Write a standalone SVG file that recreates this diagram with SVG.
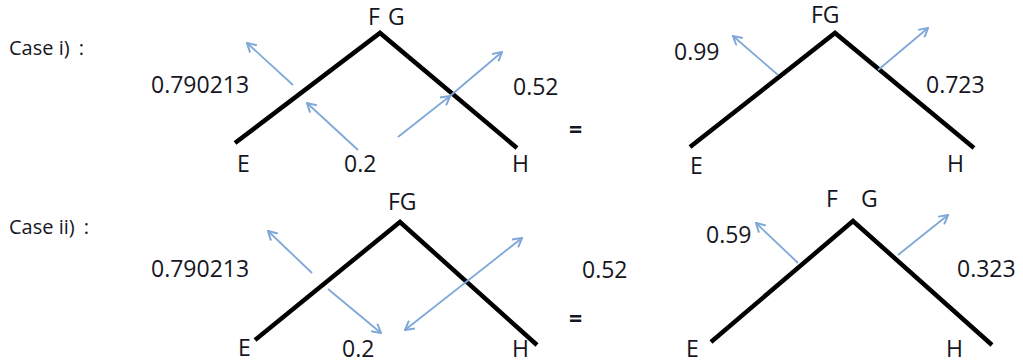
<svg xmlns="http://www.w3.org/2000/svg" width="1023" height="362" viewBox="0 0 1023 362">
  <style>
    text { font-family: "Open Sans", "Liberation Sans", sans-serif; font-size: 23px; fill: #16161e; }
    .case { font-size: 20px; }
    .eq { font-weight: bold; }
    .edge { stroke: #000; stroke-width: 4.5; fill: none; stroke-linejoin: miter; stroke-linecap: butt; }
    .arr { stroke: #7fa8d8; stroke-width: 1.8; fill: none; marker-end: url(#head); }
    .arr2 { stroke: #7fa8d8; stroke-width: 1.8; fill: none; marker-end: url(#head); marker-start: url(#head); }
  </style>
  <defs>
    <marker id="head" viewBox="0 0 10 10" refX="9" refY="5" markerWidth="11" markerHeight="11" markerUnits="userSpaceOnUse" orient="auto-start-reverse">
      <path d="M1,0.5 L9,5 L1,9.5" fill="none" stroke="#7fa8d8" stroke-width="1.8"/>
    </marker>
  </defs>
  <rect width="1023" height="362" fill="#fff"/>

  <!-- Case labels -->
  <g id="label-case1"><text class="case" x="9" y="55">Case i)<tspan dx="9">:</tspan></text></g>
  <g id="label-case2"><text class="case" x="9" y="234">Case ii)<tspan dx="9">:</tspan></text></g>

  <!-- Case i, left -->
  <g id="c1l-connectors">
    <polyline class="edge" points="235,143 380,33 517,148"/>
    <line class="arr" x1="293" y1="85" x2="247" y2="43"/>
    <line class="arr" x1="358" y1="150" x2="307" y2="103"/>
    <line class="arr" x1="398" y1="137" x2="450" y2="96"/>
    <line class="arr" x1="450" y1="96" x2="502" y2="52"/>
  </g>
  <g id="c1l-FG"><text x="368" y="25">F</text><text x="388" y="25">G</text></g>
  <g id="c1l-E"><text x="237" y="172">E</text></g>
  <g id="c1l-H"><text x="512" y="172">H</text></g>
  <g id="c1l-w1"><text x="151" y="93">0.790213</text></g>
  <g id="c1l-w2"><text x="513" y="95">0.52</text></g>
  <g id="c1l-w3"><text x="344" y="172">0.2</text></g>

  <g id="eq1"><text class="eq" x="569" y="138">=</text></g>

  <!-- Case i, right -->
  <g id="c1r-connectors">
    <polyline class="edge" points="690,147 835,33 974,148"/>
    <line class="arr" x1="778" y1="75" x2="733" y2="36"/>
    <line class="arr" x1="878" y1="70" x2="928" y2="28"/>
  </g>
  <g id="c1r-FG"><text x="811" y="23">FG</text></g>
  <g id="c1r-E"><text x="690" y="174">E</text></g>
  <g id="c1r-H"><text x="947" y="172">H</text></g>
  <g id="c1r-w1"><text x="674" y="60">0.99</text></g>
  <g id="c1r-w2"><text x="926" y="93">0.723</text></g>

  <!-- Case ii, left -->
  <g id="c2l-connectors">
    <polyline class="edge" points="255,340 400,222 537,345"/>
    <line class="arr" x1="312" y1="273" x2="268" y2="231"/>
    <line class="arr" x1="328" y1="289" x2="381" y2="333"/>
    <line class="arr2" x1="522" y1="238" x2="405" y2="330"/>
  </g>
  <g id="c2l-FG"><text x="388" y="210">FG</text></g>
  <g id="c2l-E"><text x="238" y="356">E</text></g>
  <g id="c2l-H"><text x="512" y="357">H</text></g>
  <g id="c2l-w1"><text x="151" y="277">0.790213</text></g>
  <g id="c2l-w3"><text x="342" y="357">0.2</text></g>
  <g id="c2-w2"><text x="582" y="278">0.52</text></g>

  <g id="eq2"><text class="eq" x="569" y="327">=</text></g>

  <!-- Case ii, right -->
  <g id="c2r-connectors">
    <polyline class="edge" points="711,342 853,221 992,345"/>
    <line class="arr" x1="798" y1="263" x2="756" y2="223"/>
    <line class="arr" x1="898" y1="255" x2="948" y2="215"/>
  </g>
  <g id="c2r-FG"><text x="826" y="207">F</text><text x="861" y="207">G</text></g>
  <g id="c2r-E"><text x="686" y="357">E</text></g>
  <g id="c2r-H"><text x="946" y="357">H</text></g>
  <g id="c2r-w1"><text x="706" y="243">0.59</text></g>
  <g id="c2r-w2"><text x="957" y="277">0.323</text></g>
</svg>
